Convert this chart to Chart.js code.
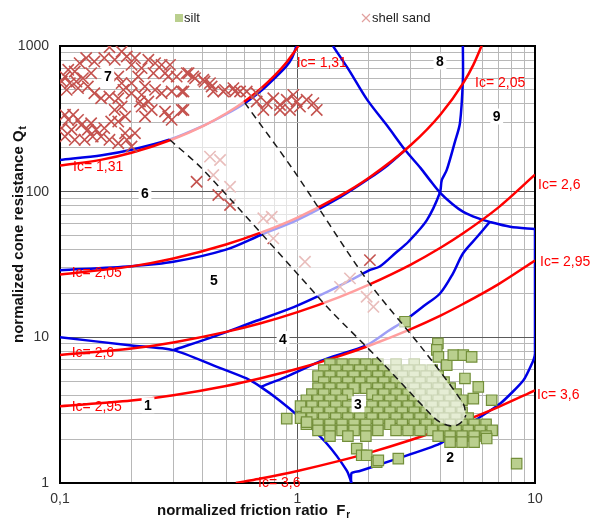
<!DOCTYPE html>
<html>
<head>
<meta charset="utf-8">
<script src="https://cdn.jsdelivr.net/npm/chart.js"></script>
<style>
  html, body { margin: 0; padding: 0; background: #fff; }
</style>
</head>
<body>
<canvas id="chart" width="592" height="519"></canvas>
<script>
// axis ticks
var xTickValues = [0.1,0.2,0.3,0.4,0.5,0.6,0.7,0.8,0.9,1,2,3,4,5,6,7,8,9,10];
var yTickValues = [1,2,3,4,5,6,7,8,9,10,20,30,40,50,60,70,80,90,100,200,300,400,500,600,700,800,900,1000];
var xLabelValues = [0.1, 1, 10];
var xLabelTexts = ['0,1', '1', '10'];
var yLabelValues = [1, 10, 100, 1000];
var yLabelTexts = ['1', '10', '100', '1000'];

// Ic curves (red)
var ic131F = [0.1,0.15,0.2,0.3,0.4,0.5,0.6,0.7,0.8,0.9,0.95,1.0,1.01];
var ic131Q = [151,166,185,230,282,344,418,509,625,774,870,983,1009];
var ic205F = [0.1,0.2,0.3,0.5,0.7,1,1.5,2,3,4,5,5.5,6];
var ic205Q = [27,30.7,34.8,43.4,52.3,66.4,93.1,124.6,209,339,561,742,1028];
var icLowF = [0.1,0.2,0.3,0.5,0.7,1,1.5,2,3,4,5,7,10];
var ic26Q = [7.57,8.37,9.23,10.9,12.5,14.9,18.9,23.0,31.6,41.2,52.0,77.7,130.8];
var ic295Q = [3.37,3.68,4.01,4.64,5.24,6.08,7.43,8.76,11.4,14.1,17.0,23.1,33.7];
var ic36F = [0.55,0.6,0.7,1,1.5,2,3,4,5,7,10];
var ic36Q = [1.0,1.026,1.074,1.21,1.418,1.611,1.973,2.32,2.656,3.32,4.33];

// zone boundaries (blue)
var b1F = [0.1,0.15,0.2,0.29,0.4,0.5,0.6,0.7,0.8,0.9,0.95,0.99];
var b1Q = [165,178,194,228,283,340,405,490,600,730,835,1000];
var b2F = [0.1,0.2,0.3,0.5,0.7,1,1.5,2,2.4,2.84];
var b2Q = [28.9,30.8,33,40,50.4,64,91,123,152,193];
var b3F = [1.41,1.65,1.96,2.4,2.84,3.3,3.61,3.98,4.5,4.97,5.7,6.45,7.86,10];
var b3Q = [1000,680,430,280,193,145,120,98.6,82,73,66,62,57.5,55.4];
var b4F = [0.3,0.45,0.63,0.97,1.3,1.7,2.02,2.22,2.6,2.93,3.5,3.98,4.05,4.25,4.6,4.83,4.97,4.97];
var b4Q = [8.17,10.2,12.5,16.2,20.1,25,29,30.6,38.2,45.3,63.5,98.6,120,141,220,295,586,1000];
var b5F = [0.1,0.2,0.3,0.45,0.61,0.7,0.84,1.02,1.33,1.61,1.69];
var b5Q = [10,8.8,8.17,6.35,5.22,4.57,3.69,2.83,1.86,1.22,1.0];
var b6F = [0.7,0.9,1.28,1.6,1.96,2.4,2.84,3.4,3.98,4.5,4.98,5.7,6.45];
var b6Q = [4.57,5.38,6.97,7.88,8.84,11.0,13.1,16.4,20,27.2,37.8,48.8,62];
var b7F = [1.68,1.69,1.83,2.5,3.98,5.5,7.14,8.94,9.85,10];
var b7Q = [1.0,1.17,1.21,1.43,1.86,2.65,3.51,5.08,6.97,7.6];
var bEdgeF = [10,10];
var bEdgeQ = [7.6,55.4];

// dashed lines and the faded area between them
var d1F = [0.29,0.401,1.025,1.37,2.22,3.73,3.98,4.28,4.6,4.85,5.0,5.12];
var d1Q = [227,141,26.1,15.4,6.97,2.84,2.62,2.49,2.47,2.58,2.72,2.92];
var d2F = [0.6,0.96,1.96,3.39,4.98,5.12];
var d2Q = [407,141,24.8,8.2,3.52,2.92];
var fadeF = [0.28,0.401,1.025,1.37,2.22,3.73,3.98,4.28,4.6,4.85,5.0,5.12,4.98,3.39,1.96,0.96,0.585,0.5,0.4,0.28];
var fadeQ = [241,141,26.1,15.4,6.97,2.84,2.62,2.49,2.47,2.58,2.72,2.92,3.52,8.2,24.8,141,431,362,297,241];

// shell sand (crosses)
var sandF = [0.1615,0.1818,0.1911,0.2068,0.17,0.2355,0.2514,0.2679,0.2905,0.2001,0.2206,0.1536,0.1395,0.1289,0.121,
  0.1154,0.1083,0.105,0.1017,0.11,0.1172,0.1249,0.1352,0.1067,0.1191,0.131,0.1395,0.1489,0.1615,0.1759,
  0.1849,0.2001,0.2206,0.2279,0.2514,0.2679,0.2952,0.3255,0.3099,0.3479,0.3704,0.406,0.435,0.495,0.5457,
  0.2858,0.2768,0.2474,0.1759,0.1818,0.2001,0.2135,0.217,0.2355,0.1818,0.17,0.188,0.1643,0.1759,0.2206,
  0.2433,0.2279,0.2768,0.2858,0.3255,0.2952,0.105,0.1136,0.1083,0.1191,0.1229,0.1352,0.131,0.1418,0.1536,
  0.1489,0.1615,0.1759,0.1017,0.105,0.1154,0.1269,0.1373,0.188,0.1911,0.2068,0.2001,0.1118,
  0.673,0.742,0.791,0.844,0.901,0.96,0.992,1.024,1.093,1.166,1.205,0.93,0.844,0.718,0.673,0.611,
  0.342,0.364,0.401,0.428,0.442,0.487,0.537,0.573,0.331,0.331,
  0.428,0.472,0.376,0.442,0.464,0.52,0.52,0.718,0.779,0.791,1.075,1.663,2.018,1.955,2.087,1.51];
var sandQ = [980,916,847,826,804,804,763,742,742,742,705,826,782,826,763,
  668,686,617,570,556,570,601,651,500,514,527,474,438,450,438,
  500,474,462,527,500,474,487,487,617,651,601,570,527,500,487,
  617,651,651,617,556,556,617,416,416,384,364,328,303,303,384,
  364,328,355,328,364,311,337,337,311,311,287,295,266,266,273,
  239,227,215,273,239,227,227,239,252,227,252,204,266,
  416,405,438,394,427,462,416,384,427,405,364,364,364,364,474,487,
  651,617,586,556,487,487,514,487,487,364,
  174,165,117,130,94.9,108,81,65.6,67.3,47.8,33.0,25.4,33.9,19.0,16.2,22.2];

// silt (squares): rows of the dense cloud, then scattered points
var siltRowQ = [6.54,5.95,5.41,4.92,4.48,4.07,3.70,3.37,3.06,2.79,2.53,2.30,2.10,1.91];
var siltRowF = [
  [1.37,1.54,1.73,1.94,2.18,2.6,3.1],
  [1.29,1.45,1.63,1.83,2.06,2.31,2.6,2.92,3.28,3.69],
  [1.22,1.37,1.54,1.73,1.94,2.18,2.45,2.76,3.1,3.48,3.91],
  [1.29,1.45,1.63,1.83,2.06,2.31,2.6,2.92,3.28,3.69,4.14],
  [1.22,1.37,1.54,1.73,1.94,2.18,2.45,2.76,3.1,3.48,3.91,4.39],
  [1.15,1.29,1.45,1.63,2.06,2.31,2.6,2.92,3.28,3.69,4.14,4.65],
  [1.09,1.22,1.37,1.54,2.18,2.45,2.76,3.1,3.48,3.91,4.39,4.93],
  [1.03,1.15,1.29,1.45,1.63,2.06,2.31,2.6,2.92,3.28,3.69,4.14,4.65],
  [1.09,1.22,1.37,1.54,1.73,1.94,2.18,2.45,2.76,3.1,3.48,3.91,4.39,4.93],
  [1.03,1.15,1.29,1.45,1.63,1.83,2.06,2.31,2.6,2.92,3.28,3.69,4.14,4.65,5.23],
  [1.09,1.22,1.37,1.54,1.73,1.94,2.18,2.45,2.76,3.1,3.48,3.91,4.39,4.93,5.54,6.22],
  [1.22,1.37,1.54,1.73,1.94,2.18,2.6,2.92,3.28,3.69,4.14,4.65,5.23,5.87,6.6],
  [1.37,1.63,1.94,3.91,4.39,4.93,5.54,6.22],
  [4.39,4.93,5.54]
];
var siltOutF = [0.901,1.093,1.776,1.864,1.956,2.155,2.189,2.657,2.835,3.9,3.86,3.92,4.25,4.53,4.99,5.41,5.07,5.77,5.5,6.57,6.26,8.37];
var siltOutQ = [2.77,2.62,1.72,1.55,1.55,1.39,1.43,1.47,12.8,9.1,8.2,7.35,6.44,7.55,7.55,7.35,5.22,4.57,3.8,3.7,2.02,1.36];

// text on the chart
var icLabelText = ['Ic= 1,31','Ic= 1,31','Ic= 2,05','Ic= 2,05','Ic= 2,6','Ic= 2,6','Ic= 2,95','Ic= 2,95','Ic= 3,6','Ic= 3,6'];
var icLabelF = [0.1135,0.992,0.112,5.59,0.112,10.3,0.112,10.5,10.2,0.682];
var icLabelQ = [148,767,27.6,558,7.79,111,3.31,32.9,4.0,1.0];
var zoneText = ['1','2','3','4','5','6','7','8','9'];
var zoneF = [0.2347,4.39,1.798,0.869,0.445,0.228,0.159,3.98,6.9];
var zoneQ = [3.42,1.5,3.47,9.72,24.7,98,624,783,328];

var RED = 'rgb(255,0,0)';
var BLUE = 'rgb(0,0,230)';
var FONT = '"Liberation Sans", Arial, sans-serif';

function pairs(fs, qs) {
  return fs.map(function (f, i) { return { x: f, y: qs[i] }; });
}

function icCurve(fs, qs) {
  return { data: pairs(fs, qs), showLine: true, borderColor: RED, borderWidth: 2.5,
    pointRadius: 0, cubicInterpolationMode: 'monotone', order: 6 };
}

function boundary(fs, qs, tension) {
  return { data: pairs(fs, qs), showLine: true, borderColor: BLUE, borderWidth: 2.5,
    pointRadius: 0, tension: tension, order: 7 };
}

function dashed(fs, qs) {
  return { data: pairs(fs, qs), showLine: true, borderColor: '#1a1a1a', borderWidth: 1.5,
    borderDash: [7, 5], pointRadius: 0, tension: 0.3, order: 2 };
}

var siltF = [], siltQ = [];
siltRowF.forEach(function (row, i) {
  row.forEach(function (f) { siltF.push(f); siltQ.push(siltRowQ[i]); });
});
siltF = siltF.concat(siltOutF);
siltQ = siltQ.concat(siltOutQ);

var datasets = [
  boundary(b1F, b1Q, 0.3),
  boundary(b2F, b2Q, 0.3),
  boundary(b3F, b3Q, 0.3),
  boundary(b4F, b4Q, 0.3),
  boundary(b5F, b5Q, 0.25),
  boundary(b6F, b6Q, 0.3),
  boundary(b7F, b7Q, 0.2),
  boundary(bEdgeF, bEdgeQ, 0),
  icCurve(ic131F, ic131Q),
  icCurve(ic205F, ic205Q),
  icCurve(icLowF, ic26Q),
  icCurve(icLowF, ic295Q),
  icCurve(ic36F, ic36Q),
  { data: pairs(sandF, sandQ), showLine: false, pointStyle: 'crossRot', pointRadius: 8,
    borderColor: 'rgb(196,82,78)', borderWidth: 1.6, order: 5 },
  { data: pairs(siltF, siltQ), showLine: false, pointStyle: 'rect', pointRadius: 7.4,
    backgroundColor: 'rgb(186,207,142)', borderColor: 'rgb(115,143,58)', borderWidth: 1.2, order: 4 },
  { data: pairs(fadeF, fadeQ), showLine: true, fill: 'shape', backgroundColor: 'rgba(255,255,255,0.62)',
    borderWidth: 0, pointRadius: 0, tension: 0, order: 3 },
  dashed(d1F, d1Q),
  dashed(d2F, d2Q)
];

function gridColor(majors) {
  return function (ctx) {
    if (!ctx.tick) return '#c0c0c0';
    return majors.indexOf(ctx.tick.value) >= 0 ? '#5a5a5a' : '#b8b8b8';
  };
}

var decorations = {
  id: 'decorations',
  beforeDatasetsDraw: function (chart) {
    var ctx = chart.ctx, a = chart.chartArea;
    ctx.save();
    ctx.strokeStyle = '#000';
    ctx.lineWidth = 2;
    ctx.strokeRect(a.left, a.top, a.right - a.left, a.bottom - a.top);
    ctx.restore();
  },
  afterDatasetsDraw: function (chart) {
    var ctx = chart.ctx, xs = chart.scales.x, ys = chart.scales.y;
    ctx.save();

    // Ic labels
    ctx.font = '14px ' + FONT;
    ctx.fillStyle = RED;
    ctx.textBaseline = 'middle';
    ctx.textAlign = 'left';
    icLabelText.forEach(function (t, i) {
      ctx.fillText(t, xs.getPixelForValue(icLabelF[i]), ys.getPixelForValue(icLabelQ[i]));
    });

    // zone numbers on white boxes
    ctx.font = 'bold 14px ' + FONT;
    ctx.textAlign = 'center';
    zoneText.forEach(function (t, i) {
      var px = xs.getPixelForValue(zoneF[i]), py = ys.getPixelForValue(zoneQ[i]);
      var w = ctx.measureText(t).width + 5;
      ctx.fillStyle = '#fff';
      ctx.fillRect(px - w / 2, py - 8, w, 16);
      ctx.fillStyle = '#000';
      ctx.fillText(t, px, py + 1);
    });

    // legend
    ctx.fillStyle = 'rgb(186,207,142)';
    ctx.fillRect(175, 14, 8, 8);
    ctx.font = '13px ' + FONT;
    ctx.textAlign = 'left';
    ctx.fillStyle = '#222';
    ctx.fillText('silt', 184, 18);
    ctx.strokeStyle = 'rgb(225,160,158)';
    ctx.lineWidth = 1.2;
    ctx.beginPath();
    ctx.moveTo(362, 14); ctx.lineTo(370, 22);
    ctx.moveTo(370, 14); ctx.lineTo(362, 22);
    ctx.stroke();
    ctx.fillText('shell sand', 372, 18);

    // axis titles with subscripts
    ctx.fillStyle = '#111';
    ctx.textBaseline = 'alphabetic';
    ctx.font = 'bold 15px ' + FONT;
    var xt = 'normalized friction ratio  F';
    ctx.fillText(xt, 157, 515);
    var xw = ctx.measureText(xt).width;
    ctx.font = 'bold 10px ' + FONT;
    ctx.fillText('r', 157 + xw + 1, 518);

    ctx.save();
    ctx.translate(23, 343);
    ctx.rotate(-Math.PI / 2);
    ctx.font = 'bold 15px ' + FONT;
    var yt = 'normalized cone resistance Q';
    ctx.fillText(yt, 0, 0);
    var yw = ctx.measureText(yt).width;
    ctx.font = 'bold 10px ' + FONT;
    ctx.fillText('t', yw + 1, 3);
    ctx.restore();

    ctx.restore();
  }
};

new Chart(document.getElementById('chart'), {
  type: 'scatter',
  data: { datasets: datasets },
  options: {
    responsive: false,
    animation: false,
    events: [],
    layout: { padding: { top: 46, right: 57, left: 0, bottom: 0 } },
    plugins: { legend: { display: false }, tooltip: { enabled: false } },
    scales: {
      x: {
        type: 'logarithmic', min: 0.1, max: 10,
        afterBuildTicks: function (s) { s.ticks = xTickValues.map(function (v) { return { value: v }; }); },
        afterFit: function (s) { s.height = 36; },
        border: { display: false },
        grid: { color: gridColor(xLabelValues), drawTicks: false },
        ticks: {
          autoSkip: false, maxRotation: 0, padding: 8, color: '#333',
          font: { family: FONT, size: 14 },
          callback: function (v) { var i = xLabelValues.indexOf(v); return i >= 0 ? xLabelTexts[i] : ''; }
        }
      },
      y: {
        type: 'logarithmic', min: 1, max: 1000,
        afterBuildTicks: function (s) { s.ticks = yTickValues.map(function (v) { return { value: v }; }); },
        afterFit: function (s) { s.width = 60; },
        border: { display: false },
        grid: { color: gridColor(yLabelValues), drawTicks: false },
        ticks: {
          autoSkip: false, padding: 11, color: '#333',
          font: { family: FONT, size: 14 },
          callback: function (v) { var i = yLabelValues.indexOf(v); return i >= 0 ? yLabelTexts[i] : ''; }
        }
      }
    }
  },
  plugins: [decorations]
});
</script>
</body>
</html>
